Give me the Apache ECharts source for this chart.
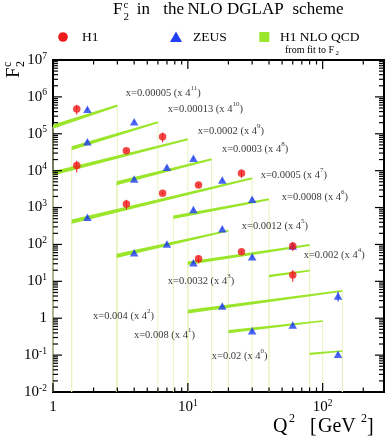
<!DOCTYPE html>
<html><head><meta charset="utf-8">
<script src="https://cdn.jsdelivr.net/npm/echarts@6/dist/echarts.min.js"></script>
<style>html,body{margin:0;padding:0;background:#fff}#c{width:392px;height:444px}</style>
</head><body><div id="c"></div>
<script>
// ---------- data ----------
// H1 measurements
const h1Q2  = [1.5, 6.5, 3.5, 1.5, 12, 25, 3.5, 6.5, 12, 25, 60, 60];
const h1F2  = [4.70e5, 8.34e4, 3.48e4, 1.37e4, 4.10e3, 8.51e3, 1.25e3, 2.44e3, 40.9, 63.8, 91, 14.9];
const h1Err = [1.4e5, 2.5e4, 3.0e3, 4.8e3, 4.0e2, 2.1e3, 3.7e2, 2.4e2, 10, 6, 25, 5.2];
// ZEUS measurements
const zeusQ2  = [1.8, 1.8, 4, 11, 7, 4, 18, 30, 11, 1.8, 18, 4, 7, 11, 30, 60, 18, 130, 30, 60, 130];
const zeusF2  = [4.61e5, 6.11e4, 2.13e5, 2.17e4, 1.24e4, 5.96e3, 5.60e3, 1.68e3, 883, 546, 266, 60, 103, 32.1, 46.7, 91, 2.15, 4.02, 0.461, 0.658, 0.106];
const zeusErr = [3.5e4, 5e3, 1.6e4, 1.7e3, 1.0e3, 4.5e2, 4.5e2, 1.3e2, 70, 45, 21, 5, 8, 2.6, 3.7, 7, 0.17, 1.2, 0.037, 0.05, 0.008];
// H1 NLO QCD bands (one per x bin)
const bandX    = ['0.00005','0.00013','0.0002','0.0003','0.0005','0.0008','0.0012','0.002','0.0032','0.004','0.008','0.02'];
const bandPow  = [11, 10, 9, 8, 7, 6, 5, 4, 3, 2, 1, 0];
const bandQ2Lo = [1, 1.375, 1, 2.96, 1.375, 7.8, 2.96, 10, 40, 10, 20, 80];
const bandQ2Hi = [3, 6, 10, 15, 30, 40, 20, 80, 80, 140, 100, 140];
const bandF2Lo = [1.56e5, 4.05e4, 8.45e3, 4.56e3, 415, 546, 48.8, 30.9, 14.0, 1.51, 0.433, 0.108];
const bandF2Hi = [5.78e5, 2.05e5, 7.10e4, 2.04e4, 6.22e3, 1.68e3, 237, 96.9, 19.5, 5.49, 0.845, 0.130];
const bandRelErrLo = [0.14, 0.14, 0.15, 0.13, 0.14, 0.12, 0.14, 0.12, 0.08, 0.13, 0.1, 0.07];
const bandRelErrHi = [0.07, 0.07, 0.07, 0.06, 0.06, 0.06, 0.06, 0.06, 0.05, 0.06, 0.05, 0.05];
// axis ranges
const xMin = 1, xMax = 285, yMin = 0.01, yMax = 1e7;

// ---------- layout (label anchors, in axis units) ----------
const labelAnchorQ2 = [3.47, 7.11, 11.86, 17.9, 34.7, 49.7, 25.1, 72.3, 7.11, 1.98, 3.98, 15.06];
const labelAnchorF2 = [1.28e6, 4.70e5, 1.19e5, 3.87e4, 7.64e3, 1.94e3, 317, 51.9, 10.3, 1.15, 0.352, 0.095];

const SERIF = '"Liberation Serif","Times New Roman",serif';
const RED = '#f01a1a', BLUE = '#1f3ff0', GREEN = '#9be52b', FAINT = '#e8f3c0';

function isPow10(v){ const l = Math.log10(v); return Math.abs(l - Math.round(l)) < 1e-6; }
function powLabel(v){
  if (!isPow10(v)) return '';
  const e = Math.round(Math.log10(v));
  return e === 0 ? '{m|1}' : '{m|10}{s|' + e + '}';
}
const axisRich = {
  m: {fontFamily: SERIF, fontSize: 15, lineHeight: 18, color: '#000'},
  s: {fontFamily: SERIF, fontSize: 9.5, lineHeight: 8, verticalAlign: 'top', color: '#000'}
};

const chart = echarts.init(document.getElementById('c'));

const series = [];
// faint verticals from band ends
series.push({
  type: 'custom', coordinateSystem: 'cartesian2d', silent: true, z: 1,
  data: bandQ2Lo.map((q, i) => [q, bandF2Lo[i]]),
  renderItem: (params, api) => {
    const i = params.dataIndex;
    const a0 = api.coord([bandQ2Lo[i], bandF2Lo[i]]), a1 = api.coord([bandQ2Lo[i], yMin]);
    const b0 = api.coord([bandQ2Hi[i], bandF2Hi[i]]), b1 = api.coord([bandQ2Hi[i], yMin]);
    return {type: 'group', children: [
      {type: 'line', shape: {x1: a0[0], y1: a0[1], x2: a1[0], y2: a1[1]}, style: {stroke: FAINT, lineWidth: 1}},
      {type: 'line', shape: {x1: b0[0], y1: b0[1], x2: b1[0], y2: b1[1]}, style: {stroke: FAINT, lineWidth: 1}}
    ]};
  }
});
// bands
series.push({
  type: 'custom', coordinateSystem: 'cartesian2d', silent: true, z: 2,
  data: bandQ2Lo.map((q, i) => [q, bandF2Lo[i]]),
  renderItem: (params, api) => {
    const i = params.dataIndex;
    const eL = 1 + bandRelErrLo[i], eH = 1 + bandRelErrHi[i];
    const pts = [
      api.coord([bandQ2Lo[i], bandF2Lo[i] * eL]),
      api.coord([bandQ2Hi[i], bandF2Hi[i] * eH]),
      api.coord([bandQ2Hi[i], bandF2Hi[i] / eH]),
      api.coord([bandQ2Lo[i], bandF2Lo[i] / eL])
    ];
    return {type: 'polygon', shape: {points: pts}, style: {fill: GREEN}};
  }
});
// error bars
function errSeries(qs, fs, es, color){
  return {
    type: 'custom', coordinateSystem: 'cartesian2d', silent: true, z: 4,
    data: qs.map((q, i) => [q, fs[i]]),
    renderItem: (params, api) => {
      const i = params.dataIndex;
      const p0 = api.coord([qs[i], fs[i] + es[i]]), p1 = api.coord([qs[i], Math.max(fs[i] - es[i], 1e-9)]);
      return {type: 'line', shape: {x1: p0[0], y1: p0[1], x2: p1[0], y2: p1[1]}, style: {stroke: color, lineWidth: 1}};
    }
  };
}
series.push(errSeries(h1Q2, h1F2, h1Err, RED));
series.push(errSeries(zeusQ2, zeusF2, zeusErr, BLUE));
series.push({type: 'scatter', name: 'ZEUS', symbol: 'triangle', symbolSize: [8.5, 7.5], z: 5, silent: true,
  itemStyle: {color: BLUE}, data: zeusQ2.map((q, i) => [q, zeusF2[i]])});
series.push({type: 'scatter', name: 'H1', symbol: 'circle', symbolSize: 7.5, z: 6, silent: true,
  itemStyle: {color: RED}, data: h1Q2.map((q, i) => [q, h1F2[i]])});
// bin labels
series.push({type: 'scatter', symbolSize: 0, z: 7, silent: true,
  data: labelAnchorQ2.map((q, i) => [q, labelAnchorF2[i]]),
  label: {show: true, position: 'right', distance: 0,
    formatter: p => '{m|x=' + bandX[p.dataIndex] + ' (x 4}{s|' + bandPow[p.dataIndex] + '}{m|)}',
    rich: {
      m: {fontFamily: SERIF, fontSize: 10.5, lineHeight: 16, color: '#000'},
      s: {fontFamily: SERIF, fontSize: 7, lineHeight: 8, verticalAlign: 'top', color: '#000'}
    }}
});
// ticks on all four sides
series.push({
  type: 'custom', coordinateSystem: 'cartesian2d', silent: true, z: 10,
  data: [[2, 1]],
  renderItem: (params, api) => {
    const ch = [];
    const st = {stroke: '#000', lineWidth: 1.2};
    for (let d = 1; d <= 100; d *= 10) for (let m = 1; m <= 9; m++) {
      const v = m * d; if (v > xMax) continue;
      const L = m === 1 ? 9 : 4.5;
      const b = api.coord([v, yMin]), t = api.coord([v, yMax]);
      ch.push({type: 'line', shape: {x1: b[0], y1: b[1], x2: b[0], y2: b[1] - L}, style: st});
      ch.push({type: 'line', shape: {x1: t[0], y1: t[1], x2: t[0], y2: t[1] + L}, style: st});
    }
    for (let e = -2; e <= 6; e++) for (let m = 1; m <= 9; m++) {
      const v = m * Math.pow(10, e);
      const L = m === 1 ? 9 : 5;
      const l = api.coord([xMin, v]), r = api.coord([xMax, v]);
      ch.push({type: 'line', shape: {x1: l[0], y1: l[1], x2: l[0] + L, y2: l[1]}, style: st});
      ch.push({type: 'line', shape: {x1: r[0], y1: r[1], x2: r[0] - L, y2: r[1]}, style: st});
    }
    const l = api.coord([xMin, yMax]), r = api.coord([xMax, yMax]);
    ch.push({type: 'line', shape: {x1: l[0], y1: l[1], x2: l[0] + 9, y2: l[1]}, style: st});
    return {type: 'group', children: ch};
  }
});

const T = (text, x, y, size, extra) => Object.assign({type: 'text', x: x, y: y, silent: true,
  style: {text: text, font: size + 'px ' + SERIF, fill: '#000', verticalAlign: 'middle', align: 'left'}}, extra || {});

const graphic = [
  // title
  T('F', 113, 10, 17), T('c', 123.5, 5, 11), T('2', 123.5, 17, 11),
  T('in', 136.7, 10, 17), T('the', 163.3, 10, 17), T('NLO', 187.5, 10, 17), T('DGLAP', 227, 10, 17), T('scheme', 292.5, 10, 17),
  // legend
  {type: 'circle', shape: {cx: 63, cy: 37, r: 4.8}, style: {fill: RED}, silent: true},
  T('H1', 82, 37, 13.5),
  {type: 'polygon', shape: {points: [[176, 31.5], [182, 42], [170, 42]]}, style: {fill: BLUE}, silent: true},
  T('ZEUS', 193, 37, 13.5),
  {type: 'rect', shape: {x: 259.3, y: 32, width: 10, height: 10}, style: {fill: GREEN}, silent: true},
  T('H1 NLO QCD', 280, 37, 13.5),
  T('from fit to F', 285, 50, 10), T('2', 335.5, 53, 7),
  // x axis title
  T('Q', 273, 427, 20), T('2', 289, 419, 12), T('[', 310, 427, 20), T('GeV', 318, 427, 20), T('2', 361, 419, 12), T(']', 367, 427, 20),
  // y axis title (rotated)
  {type: 'group', x: 14, y: 72, rotation: Math.PI / 2, silent: true, children: [
    T('F', -6, 0, 19), T('c', 5, -6, 12), T('2', 5, 7, 12)
  ]}
];

chart.setOption({
  animation: false,
  backgroundColor: '#fff',
  grid: {left: 53, right: 8, top: 60, bottom: 52, show: true, borderColor: '#000', borderWidth: 2, backgroundColor: 'rgba(0,0,0,0)'},
  xAxis: {type: 'log', logBase: 10, min: xMin, max: xMax,
    axisLine: {show: false}, axisTick: {show: false}, splitLine: {show: false}, minorTick: {show: false},
    axisLabel: {margin: 6, formatter: powLabel, rich: axisRich}},
  yAxis: {type: 'log', logBase: 10, min: yMin, max: yMax, splitNumber: 9,
    axisLine: {show: false}, axisTick: {show: false}, splitLine: {show: false}, minorTick: {show: false},
    axisLabel: {margin: 6, formatter: powLabel, rich: axisRich}},
  series: series,
  graphic: graphic
});
</script></body></html>
